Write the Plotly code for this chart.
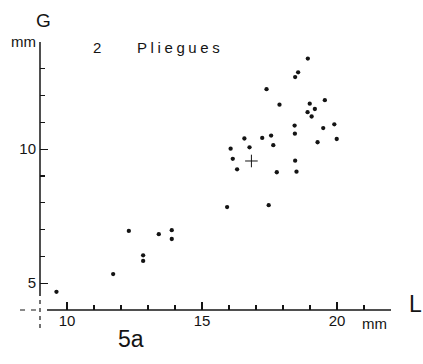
import plotly.graph_objects as go

# ---- data ----
L_dots = [18.92, 18.56, 18.45, 17.39, 17.87, 19.55, 18.99, 19.18, 18.91, 19.06,
          18.43, 19.49, 19.90, 18.44, 19.99, 19.28, 16.57, 17.23, 17.56, 16.06,
          16.76, 17.64, 16.14, 16.30, 18.45, 17.77, 18.50, 15.93, 17.47, 9.61,
          11.71, 12.29, 12.82, 12.82, 13.40, 13.88, 13.88]
G_dots = [13.38, 12.87, 12.69, 12.24, 11.66, 11.83, 11.70, 11.50, 11.38, 11.22,
          10.88, 10.79, 10.93, 10.58, 10.38, 10.26, 10.40, 10.42, 10.51, 10.02,
          10.07, 10.15, 9.64, 9.25, 9.57, 9.14, 9.16, 7.84, 7.91, 4.68,
          5.34, 6.95, 6.04, 5.83, 6.83, 6.98, 6.65]
L_mean = [16.83]
G_mean = [9.56]

x_major = [10, 15, 20]
x_major_text = ["10", "15", "20"]
x_minor = [11, 12, 13, 14, 16, 17, 18, 19, 21, 22]
y_major = [5, 10, 14]
y_major_text = ["5", "10", "mm"]
y_minor = [6, 7, 8, 9, 11, 12, 13]

X_RANGE = [9, 22]
Y_RANGE = [4, 14]

INK = "#141414"
FONT = "Liberation Sans"


def px(v):
    return (v - X_RANGE[0]) / (X_RANGE[1] - X_RANGE[0])


def py(v):
    return (v - Y_RANGE[0]) / (Y_RANGE[1] - Y_RANGE[0])


fig = go.Figure()
fig.add_trace(go.Scatter(x=L_dots, y=G_dots, mode="markers",
                         marker=dict(size=4.3, color=INK), showlegend=False,
                         cliponaxis=False, hoverinfo="skip"))
fig.add_trace(go.Scatter(x=L_mean, y=G_mean, mode="markers",
                         marker=dict(symbol="cross-thin", size=9,
                                     line=dict(width=1, color=INK)),
                         showlegend=False, hoverinfo="skip"))

axis_common = dict(showgrid=False, zeroline=False, showline=False,
                   ticks="inside", ticklen=8, tickwidth=1.3, tickcolor=INK,
                   tickfont=dict(family=FONT, size=15, color=INK),
                   tickmode="array", fixedrange=True)

fig.update_xaxes(range=X_RANGE, tickvals=x_major, ticktext=x_major_text,
                 minor=dict(tickmode="array", tickvals=x_minor, ticks="inside",
                            ticklen=5, tickwidth=1.2, tickcolor=INK),
                 **axis_common)
fig.update_yaxes(range=Y_RANGE, tickvals=y_major, ticktext=y_major_text,
                 ticklabelstandoff=3,
                 minor=dict(tickmode="array", tickvals=y_minor, ticks="inside",
                            ticklen=5, tickwidth=1.2, tickcolor=INK),
                 **axis_common)

shapes = [
    # solid axis lines (broken near origin)
    dict(type="line", xref="paper", yref="paper",
         x0=px(9), x1=px(9), y0=py(4.52), y1=py(14),
         line=dict(color=INK, width=1.5)),
    dict(type="line", xref="paper", yref="paper",
         x0=px(9.26), x1=px(22), y0=py(4), y1=py(4),
         line=dict(color=INK, width=1.5)),
    # dashed continuations
    dict(type="line", xref="paper", yref="paper",
         x0=px(9), x1=px(9), y0=py(4.37), y1=py(3.18),
         line=dict(color=INK, width=1.2, dash="4px,4px")),
    dict(type="line", xref="paper", yref="paper",
         x0=px(8.26), x1=px(8.85), y0=py(4), y1=py(4),
         line=dict(color=INK, width=1.2, dash="5px,6px")),
]

annotations = [
    dict(text="G", x=43, y=20),
    dict(text="2", x=97, y=47, size=15),
    dict(text="<span style='letter-spacing:3.6px'>Pliegues</span>", x=180, y=47, size=15),
    dict(text="L", x=415, y=304, size=23),
    dict(text="mm", x=374, y=323, size=15),
    dict(text="5a", x=131, y=339, size=23),
]
ann_objs = []
for a in annotations:
    ann_objs.append(dict(
        text=a["text"], xref="paper", yref="paper",
        x=(a["x"] - 40) / 351, y=(310 - a["y"]) / 268,
        xanchor="center", yanchor="middle", showarrow=False,
        font=dict(family=FONT, size=a.get("size", 19), color=INK)))

fig.update_layout(
    width=423, height=364,
    margin=dict(l=40, r=32, t=42, b=54, autoexpand=False),
    paper_bgcolor="white", plot_bgcolor="white",
    shapes=shapes, annotations=ann_objs, hovermode=False,
)

fig.write_html("out.html",
               config={"displayModeBar": False, "staticPlot": True},
               post_script="document.body.style.margin='0';"
                           "document.body.style.overflow='hidden';")
